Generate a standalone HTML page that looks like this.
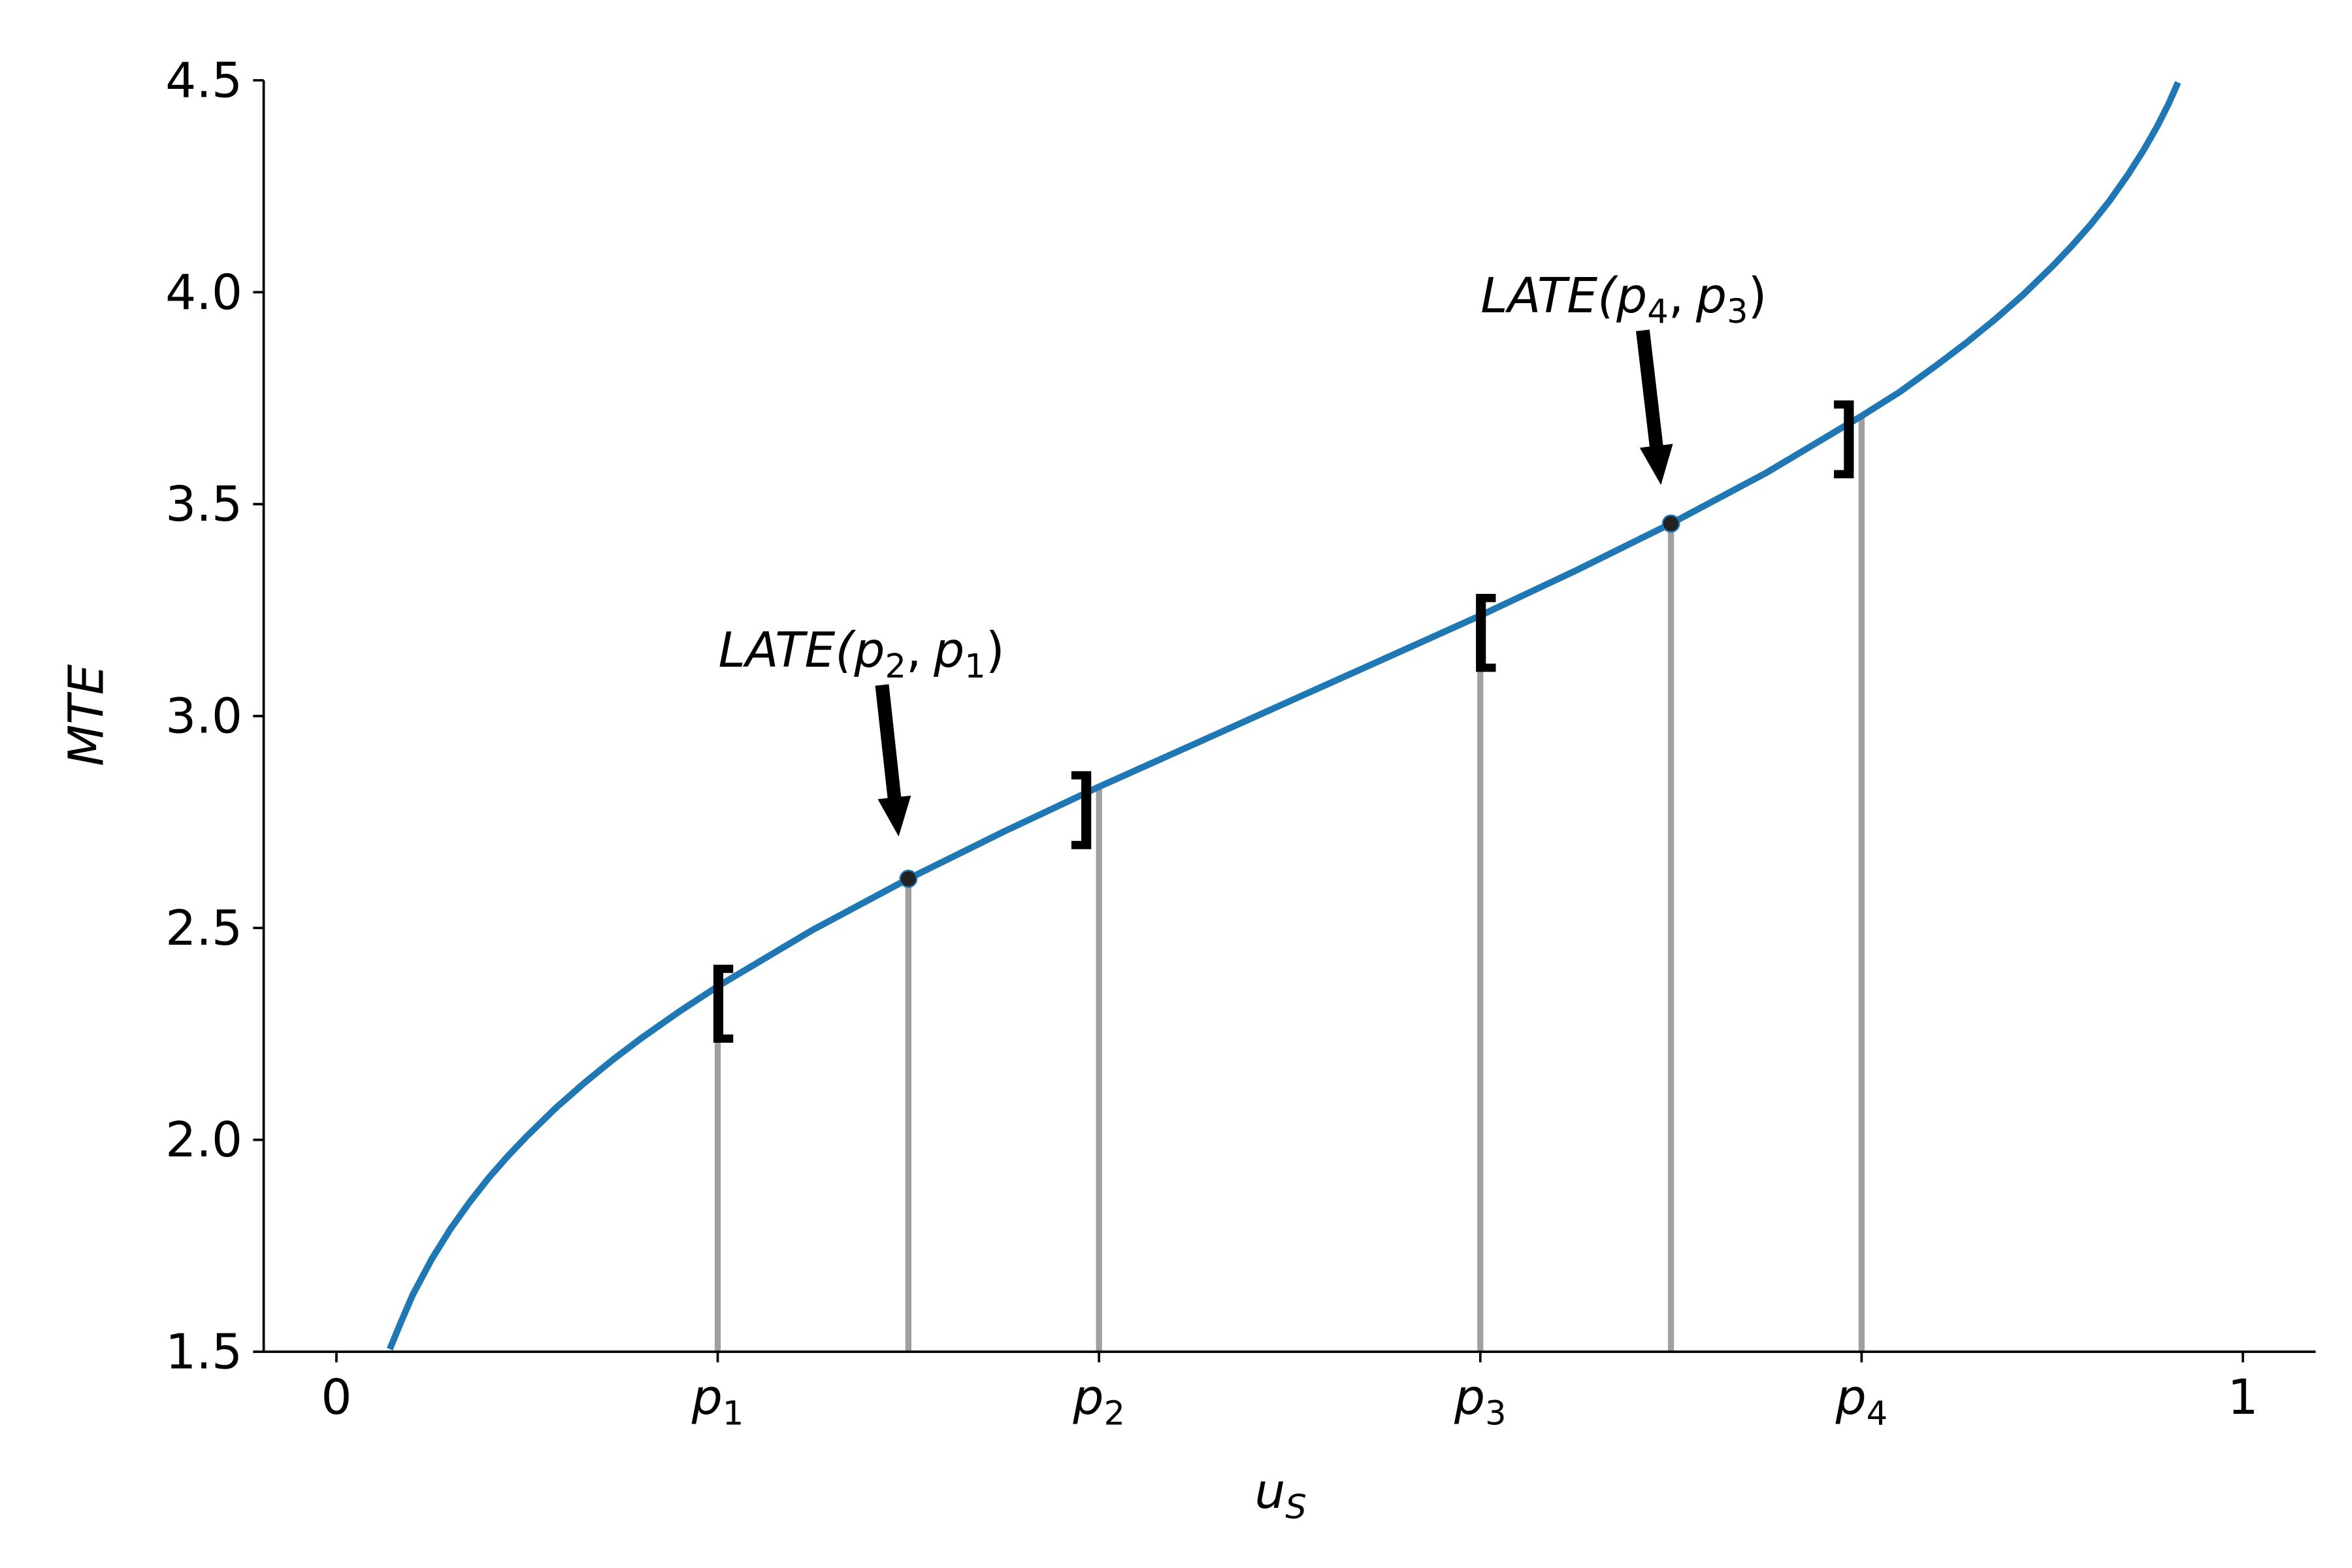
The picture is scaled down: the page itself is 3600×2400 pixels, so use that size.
<!DOCTYPE html>
<html><head><meta charset="utf-8">
<style>
html,body{margin:0;padding:0;background:#fff;}
svg{display:block;}
text{font-family:"DejaVu Sans","Liberation Sans",sans-serif;fill:#000;}
</style></head>
<body>
<svg id="chart" width="3600" height="2400" viewBox="0 0 1552 1034.7" preserveAspectRatio="none" xmlns="http://www.w3.org/2000/svg">
<g id="plot"></g>
</svg>
<script>
const curveU = [0.028,0.034,0.04,0.05,0.06,0.07,0.08,0.09,0.10,0.115,0.13,0.145,0.16,0.18,0.20,0.25,0.30,0.35,0.40,0.45,0.50,0.55,0.60,0.65,0.70,0.75,0.80,0.82,0.84,0.855,0.87,0.885,0.90,0.91,0.92,0.93,0.94,0.948,0.955,0.961,0.966];
const curveMTE = [1.506,1.572,1.634,1.719,1.791,1.854,1.911,1.962,2.009,2.075,2.134,2.189,2.240,2.303,2.362,2.496,2.616,2.727,2.833,2.934,3.035,3.136,3.237,3.343,3.454,3.574,3.708,3.765,3.830,3.881,3.936,3.995,4.061,4.108,4.159,4.215,4.279,4.336,4.391,4.444,4.495];
const vlineU = [0.2,0.3,0.4,0.6,0.7,0.8];
const vlineMTE = [2.362,2.616,2.833,3.237,3.454,3.708];
const pointU = [0.3,0.7];
const pointMTE = [2.616,3.454];
const yTicks = [1.5,2.0,2.5,3.0,3.5,4.0,4.5];
const yTickLabels = ["1.5","2.0","2.5","3.0","3.5","4.0","4.5"];
const xTicks = [0,0.2,0.4,0.6,0.8,1];
const xTickLabels = ["0","p1","p2","p3","p4","1"];
const bracketU = [0.2,0.4,0.6,0.8];
const bracketChar = ["[","]","[","]"];

const NS="http://www.w3.org/2000/svg";
const g=document.getElementById('plot');
const X0=222,X1=1480,Y0=892,Y1=53;
const xs=u=>X0+(X1-X0)*u;
const ys=v=>Y0-(Y0-Y1)*(v-1.5)/3;
function mk(tag,attrs,parent){const e=document.createElementNS(NS,tag);for(const k in attrs)e.setAttribute(k,attrs[k]);(parent||g).appendChild(e);return e;}

vlineU.forEach((u,i)=>{
  const l=mk('line',{x1:xs(u),x2:xs(u),y1:Y0,y2:ys(vlineMTE[i]),stroke:'#a0a0a0','stroke-width':4});
  
  
});
const p=mk('path',{d:curveU.map((u,i)=>(i?'L':'M')+xs(u).toFixed(1)+','+ys(curveMTE[i]).toFixed(1)).join(' '),fill:'none',stroke:'#1f77b4','stroke-width':4.3,'stroke-linejoin':'round'});


pointU.forEach((u,i)=>{
  const c=mk('circle',{cx:xs(u),cy:ys(pointMTE[i]),r:5.5,fill:'#222',stroke:'#1f77b4','stroke-width':1});
  
  
});
bracketU.forEach((u,i)=>{
  const idx=vlineU.indexOf(u);
  const open=bracketChar[i]=='[';
  const t=mk('text',{x:xs(u)+(open?4:-12),y:ys(vlineMTE[idx])+(open?29:33),'font-size':56,'text-anchor':'middle',stroke:'#000','stroke-width':1.5});
  t.textContent=bracketChar[i];
  
  
});
let s=mk('line',{x1:174,x2:174,y1:53,y2:892,stroke:'#000','stroke-width':1.6});


s=mk('line',{x1:174,x2:1528,y1:892,y2:892,stroke:'#000','stroke-width':1.6});


yTicks.forEach((v,i)=>{
  mk('line',{x1:167,x2:174,y1:ys(v),y2:ys(v),stroke:'#000','stroke-width':1.6});
  const t=mk('text',{x:160,y:ys(v)+11,'font-size':32,'text-anchor':'end'});
  t.textContent=yTickLabels[i];
  
  
});
xTicks.forEach((u,i)=>{
  mk('line',{x1:xs(u),x2:xs(u),y1:892,y2:899,stroke:'#000','stroke-width':1.6});
  const t=mk('text',{x:xs(u),y:933,'font-size':32,'text-anchor':'middle'});
  const lab=xTickLabels[i];
  if(lab[0]=='p'){
    const a=mk('tspan',{'font-style':'italic'},t);a.textContent='p';
    const b=mk('tspan',{'font-size':22,dy:7},t);b.textContent=lab.slice(1);
  } else t.textContent=lab;
  
  
});
let t=mk('text',{x:0,y:0,'font-size':32,'font-style':'italic','text-anchor':'middle',transform:'translate(68,472) rotate(-90)'});
t.textContent='MTE';


t=mk('text',{x:845,y:995,'font-size':32,'text-anchor':'middle'});
let a=mk('tspan',{'font-style':'italic'},t);a.textContent='u';
let b=mk('tspan',{'font-size':22,'font-style':'italic',dy:7},t);b.textContent='S';


function annot(x,y,n1,n2,ax1,ay1,ax2,ay2,name){
  const t=mk('text',{x:x,y:y,'font-size':32});
  const parts=[['LATE(',1],['p',1],[n1,0],[',',0],['p',1],[n2,0],[')',0]];
  parts.forEach(([s,it],k)=>{
    const sp=mk('tspan',{},t);
    if(it)sp.setAttribute('font-style','italic');
    if(k==2||k==5){sp.setAttribute('font-size',22);sp.setAttribute('dy',7);}
    if(k==3||k==6)sp.setAttribute('dy',-7);
    if(k==4)sp.setAttribute('dx',8);
    sp.textContent=s;
  });
  
  
  const dx=ax2-ax1,dy=ay2-ay1,L=Math.hypot(dx,dy),ux=dx/L,uy=dy/L,nx=-uy,ny=ux;
  const hl=26,hw=11,sw=4.5;
  const bx=ax2-ux*hl,by=ay2-uy*hl;
  const pts=[[ax1+nx*sw,ay1+ny*sw],[bx+nx*sw,by+ny*sw],[bx+nx*hw,by+ny*hw],[ax2,ay2],[bx-nx*hw,by-ny*hw],[bx-nx*sw,by-ny*sw],[ax1-nx*sw,ay1-ny*sw]];
  const ar=mk('polygon',{points:pts.map(q=>q[0].toFixed(1)+','+q[1].toFixed(1)).join(' '),fill:'#000'});
  
  
}
annot(474,440,'2','1',582,452,593,552,'late-p2-p1');
annot(977,206,'4','3',1084,218,1096,320,'late-p4-p3');
</script>
</body></html>
